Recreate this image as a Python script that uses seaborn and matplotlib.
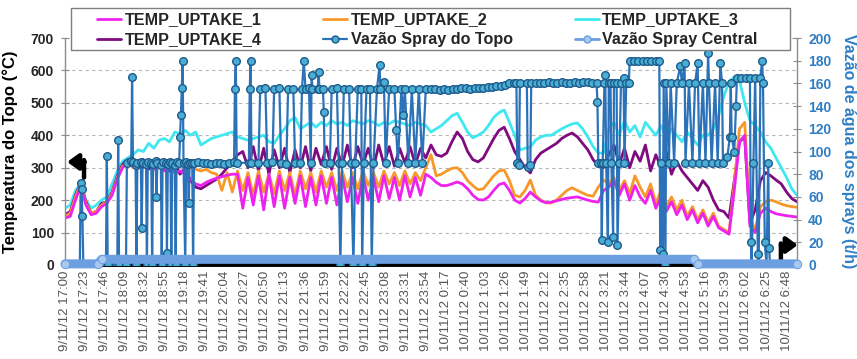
import matplotlib
matplotlib.use("Agg")
import matplotlib.pyplot as plt
import seaborn as sns
import pandas as pd
from matplotlib.lines import Line2D
from matplotlib.patches import Rectangle

sns.set_style("white")
plt.rcParams["font.family"] = ["Liberation Sans", "DejaVu Sans"]

# ---------------- data ----------------
# minutes after 9/11/12 17:00, one reading every 6 minutes
minutes = list(range(0, 841, 6))

temp_uptake_1 = [
    145, 150, 200, 245, 185, 155, 160, 180, 190, 215,
    265, 300, 315, 305, 315, 300, 310, 295, 305, 290,
    300, 285, 290, 280, 265, 250, 245, 255, 262, 268,
    272, 277, 280, 280, 175, 270, 185, 275, 170, 280,
    180, 275, 175, 270, 190, 275, 180, 270, 185, 275,
    190, 270, 185, 275, 195, 270, 190, 275, 200, 270,
    195, 275, 205, 270, 200, 275, 210, 270, 215, 280,
    270, 255, 245, 245, 250, 256, 250, 235, 215, 202,
    200, 210, 230, 248, 253, 230, 200, 191, 205, 225,
    210, 198, 192, 194, 198, 202, 206, 208, 210, 205,
    200, 196, 194, 230, 240, 260, 215, 250, 200, 245,
    210, 190, 230, 175, 210, 165, 195, 155, 185, 140,
    170, 130, 160, 120, 150, 115, 105, 95, 230, 380,
    400, 120, 100, 160, 175, 165, 158, 155, 152, 150,
    148]

temp_uptake_2 = [
    150, 160, 210, 250, 190, 160, 165, 185, 195, 220,
    270, 305, 315, 300, 320, 305, 315, 300, 320, 310,
    315, 300, 320, 305, 300, 295, 290, 295, 285, 280,
    230, 285, 225, 290, 230, 285, 215, 290, 225, 280,
    220, 290, 230, 285, 215, 290, 235, 285, 225, 290,
    240, 285, 230, 290, 240, 285, 235, 290, 245, 285,
    240, 290, 250, 285, 245, 290, 250, 285, 260, 300,
    340, 275, 280, 290, 298, 300, 285, 260, 245, 232,
    235, 255, 275, 290, 293, 260, 215, 210, 230, 262,
    215, 200, 192, 191, 200, 215, 230, 238, 230, 222,
    215, 212, 240, 262, 250, 270, 230, 260, 220, 275,
    240, 210, 250, 190, 230, 180, 210, 170, 200, 150,
    180, 140, 170, 130, 160, 120, 110, 100, 250, 420,
    440, 140, 110, 180, 195, 200, 195, 188, 183, 180,
    178]

temp_uptake_3 = [
    175, 185, 230, 250, 200, 175, 185, 200, 210, 250,
    290, 320, 330, 340, 355, 350, 375, 360, 385, 390,
    380, 410, 405, 415, 400, 410, 370, 380, 390, 395,
    400, 405, 410, 395, 390, 385, 390, 395, 400, 380,
    375, 400, 420, 445, 455, 420, 430, 440, 425, 440,
    430, 445, 435, 440, 430, 445, 440, 435, 445, 440,
    430, 440, 435, 445, 440, 435, 430, 440, 435, 430,
    410, 420, 430, 445, 460, 468, 440, 410, 392, 400,
    410, 430, 455, 470, 478, 440, 400, 355, 360, 364,
    385, 395, 400, 400, 410, 420, 428, 435, 438, 420,
    395, 365, 345, 345, 420, 440, 400, 445, 410, 430,
    395, 440, 420, 400, 430, 390, 420, 400, 380, 410,
    390, 370, 400, 400, 420, 460, 520, 565, 580, 570,
    500, 445, 430, 410, 380, 360, 330, 300, 270, 235,
    215]

temp_uptake_4 = [
    155, 165, 215, 253, 195, 160, 165, 190, 195, 225,
    275, 310, 325, 320, 310, 325, 295, 320, 300, 325,
    290, 315, 280, 300, 260, 240, 235, 245, 255, 265,
    280, 300, 320, 340, 350, 300, 365, 290, 360, 280,
    355, 300, 360, 285, 355, 300, 365, 290, 360, 310,
    365, 295, 360, 305, 370, 300, 365, 310, 360, 300,
    370, 310, 365, 305, 360, 315, 365, 310, 360, 330,
    370, 340, 335, 345, 380, 410, 390, 350, 325, 318,
    330, 360, 390, 415, 425, 390, 350, 325, 300, 284,
    325, 345, 355, 365, 375, 390, 400, 407, 395, 375,
    355, 325, 305, 300, 340, 370, 310, 360, 300, 350,
    320, 370, 290, 340, 300, 350, 280, 320, 290, 270,
    250, 230, 260, 240, 200, 170, 165, 145, 260, 380,
    395, 130, 170, 260, 285, 275, 262, 250, 225, 205,
    195]

# Vazão Spray do Topo (t/h): (minute, value)
topo_points = [
    (0, 0), (17, 0), (18, 72), (19, 67), (20, 43), (21, 0), (47, 0), (48, 96), (49, 0),
    (60, 0), (61, 110), (62, 0), (70, 0),
    (71, 90), (76, 92), (77, 166), (78, 91), (81, 88), (82, 0), (83, 90), (87, 91), (88, 33),
    (89, 90), (93, 89), (94, 0), (95, 91), (99, 90), (100, 0), (101, 89), (104, 92), (105, 60),
    (106, 90), (110, 88), (111, 0), (112, 91), (116, 90), (117, 11), (118, 89), (121, 91),
    (122, 0), (123, 90), (126, 88), (127, 0), (128, 91), (131, 90), (132, 113), (133, 132),
    (134, 156), (135, 180), (136, 90), (138, 0), (139, 91), (141, 89), (142, 55), (143, 90),
    (146, 90), (147, 0), (148, 90), (153, 91), (158, 90), (163, 90), (168, 89), (173, 90),
    (178, 90), (183, 89), (188, 90), (194, 91), (195, 155), (196, 180), (197, 90), (211, 90),
    (212, 155), (213, 180), (214, 90),
    (222, 90), (224, 155), (230, 156), (232, 90), (238, 91), (240, 155), (246, 156), (248, 90),
    (254, 89), (256, 155), (262, 155), (264, 90), (270, 90), (272, 155), (274, 180), (276, 155),
    (280, 156), (282, 90), (283, 167), (284, 155), (290, 155), (291, 170), (292, 155), (296, 155),
    (297, 135), (298, 90), (304, 90), (306, 155), (312, 156), (314, 90), (316, 0), (318, 90),
    (320, 155), (326, 155), (328, 90), (331, 0), (333, 90), (336, 155), (340, 155), (341, 0),
    (343, 90), (346, 155), (350, 155), (352, 0), (354, 90), (358, 155), (361, 176), (362, 155),
    (366, 161), (368, 90), (372, 155), (378, 155), (380, 119), (382, 90), (386, 155), (388, 132),
    (390, 155), (394, 90), (398, 155), (402, 90), (406, 155), (410, 90), (414, 155),
    (420, 155), (425, 155), (430, 154), (435, 155), (440, 154), (445, 155), (450, 155),
    (455, 156), (460, 156), (465, 155), (470, 156), (475, 156), (480, 156), (485, 157),
    (490, 157), (495, 158), (500, 158), (505, 159), (510, 160), (515, 160), (518, 160),
    (519, 90), (521, 88), (522, 160), (530, 160), (531, 86), (534, 88), (535, 160), (540, 160),
    (545, 160), (550, 160), (555, 161), (560, 160), (565, 160), (570, 161), (575, 160),
    (580, 160), (585, 161), (590, 160), (595, 161), (600, 161), (605, 160), (610, 160),
    (611, 144), (612, 90), (615, 90), (616, 22), (617, 90), (619, 160), (620, 167), (621, 90),
    (623, 20), (624, 160), (626, 160), (627, 90), (629, 25), (630, 160), (633, 160), (634, 18),
    (636, 90), (638, 160), (641, 165), (642, 90), (644, 160), (647, 160),
    (648, 180), (653, 180), (658, 180), (663, 180), (668, 180), (673, 180), (678, 180), (682, 180),
    (683, 13), (684, 90), (686, 10), (687, 160), (689, 0), (690, 160), (693, 90), (695, 160),
    (699, 90), (702, 160), (706, 175), (708, 160), (711, 178), (712, 90), (716, 160), (720, 90),
    (723, 160), (726, 178), (728, 90), (732, 160), (735, 90), (738, 187), (739, 160), (742, 90),
    (746, 160), (749, 90), (752, 178), (754, 160), (755, 90),
    (760, 95), (763, 113), (764, 160), (765, 113), (768, 100), (770, 140),
    (771, 165), (776, 165), (781, 165), (786, 165),
    (787, 20), (788, 0), (790, 90), (792, 165), (795, 10), (796, 0), (798, 165), (800, 180),
    (801, 160), (803, 20), (805, 0), (807, 90), (808, 15), (809, 0), (840, 0)]
topo_t = [p[0] for p in topo_points]
topo_v = [p[1] for p in topo_points]

# Vazão Spray Central (t/h)
central_t = [0, 38, 42, 722, 726, 840]
central_v = [1, 1, 5, 5, 1, 1]

tick_labels = [
    "9/11/12 17:00", "9/11/12 17:23", "9/11/12 17:46", "9/11/12 18:09", "9/11/12 18:32",
    "9/11/12 18:55", "9/11/12 19:18", "9/11/12 19:41", "9/11/12 20:04", "9/11/12 20:27",
    "9/11/12 20:50", "9/11/12 21:13", "9/11/12 21:36", "9/11/12 21:59", "9/11/12 22:22",
    "9/11/12 22:45", "9/11/12 23:08", "9/11/12 23:31", "9/11/12 23:54", "10/11/12 0:17",
    "10/11/12 0:40", "10/11/12 1:03", "10/11/12 1:26", "10/11/12 1:49", "10/11/12 2:12",
    "10/11/12 2:35", "10/11/12 2:58", "10/11/12 3:21", "10/11/12 3:44", "10/11/12 4:07",
    "10/11/12 4:30", "10/11/12 4:53", "10/11/12 5:16", "10/11/12 5:39", "10/11/12 6:02",
    "10/11/12 6:25", "10/11/12 6:48"]
tick_minutes = [23 * i for i in range(len(tick_labels))]

# ---------------- styles ----------------
C1, C2, C3, C4 = "#EE22EE", "#F7992A", "#3FE8F0", "#800A80"
TOPO_LINE, TOPO_FACE, TOPO_EDGE = "#2C72B8", "#4AAED4", "#1E5A8C"
CENTRAL = "#6C9FE0"
BLUE_TXT = "#2F7EC4"

W, H = 857, 359
fig = plt.figure(figsize=(W / 100, H / 100), dpi=100)
ax = fig.add_axes([65 / W, 1 - 265 / H, 732 / W, 227 / H])
ax2 = ax.twinx()

temps = pd.DataFrame({"min": minutes, "T1": temp_uptake_1, "T2": temp_uptake_2,
                      "T3": temp_uptake_3, "T4": temp_uptake_4})
for col, c in [("T3", C3), ("T4", C4), ("T2", C2), ("T1", C1)]:
    sns.lineplot(data=temps, x="min", y=col, ax=ax, color=c, lw=2.0,
                 estimator=None, legend=False)

sns.lineplot(x=topo_t, y=topo_v, ax=ax2, estimator=None, sort=False, legend=False,
             color=TOPO_LINE, lw=1.6, marker="o", markersize=5.5,
             markerfacecolor=TOPO_FACE, markeredgecolor=TOPO_EDGE, markeredgewidth=1.0)
sns.lineplot(x=central_t, y=central_v, ax=ax2, estimator=None, sort=False, legend=False,
             color=CENTRAL, lw=6.5, marker="o", markersize=6,
             markerfacecolor="#A9C8EE", markeredgecolor=CENTRAL, clip_on=False, zorder=5)

ax.set_xlim(0, 840)
ax.set_ylim(0, 700)
ax2.set_ylim(0, 200)

# grid
ax.yaxis.grid(True, linestyle=(0, (3, 3)), color="#B5B5B5", lw=0.8)
ax.xaxis.grid(False)
ax2.grid(False)

# spines
for s in ["top", "right"]:
    ax.spines[s].set_visible(False)
for s in ["top", "left", "bottom"]:
    ax2.spines[s].set_visible(False)
ax.spines["left"].set_color("#8C8C8C")
ax.spines["left"].set_linewidth(1.0)
ax2.spines["right"].set_color("#8C8C8C")
ax2.spines["right"].set_linewidth(1.0)
ax.spines["bottom"].set_color("black")
ax.spines["bottom"].set_linewidth(2.8)

# ticks
ax.set_yticks(list(range(0, 701, 100)))
ax.set_yticklabels([str(v) for v in range(0, 701, 100)], fontweight="bold", fontsize=10)
ax.tick_params(axis="y", left=True, direction="inout", length=6, width=0.8,
               color="#8C8C8C", pad=5)
ax2.set_yticks(list(range(0, 201, 20)))
ax2.set_yticklabels([str(v) for v in range(0, 201, 20)], fontweight="bold", fontsize=10,
                    color=BLUE_TXT)
ax2.tick_params(axis="y", right=True, direction="inout", length=6, width=0.8,
                color="#8C8C8C", pad=5)
ax.set_xticks(tick_minutes)
ax.set_xticklabels(tick_labels, rotation=90, fontsize=9.5, color="#555555")
ax.tick_params(axis="x", bottom=False, length=0, pad=4)

ax.set_xlabel("")
ax.set_ylabel("Temperatura do Topo (°C)", fontsize=12, fontweight="bold", color="black")
ax.yaxis.set_label_coords(-0.064, 0.5)
ax2.set_ylabel("Vazão de água dos sprays (t/h)", fontsize=11.5, fontweight="bold",
               color=BLUE_TXT, rotation=270, va="center", ha="center")
ax2.yaxis.set_label_coords(1.0697, 0.5)

# axis-indicator arrows
arr = dict(arrowstyle="-|>,head_length=0.55,head_width=0.4", lw=3.2, color="black",
           shrinkA=0, shrinkB=0, mutation_scale=12)
stem = dict(arrowstyle="-", lw=3.2, color="black", shrinkA=0, shrinkB=0)
ax2.annotate("", xy=(0.003, 0.454), xytext=(0.027, 0.454), xycoords="axes fraction",
             arrowprops=arr)
ax2.annotate("", xy=(0.026, 0.385), xytext=(0.026, 0.462), xycoords="axes fraction",
             arrowprops=stem)
ax2.annotate("", xy=(1.001, 0.088), xytext=(0.978, 0.088), xycoords="axes fraction",
             arrowprops=arr)
ax2.annotate("", xy=(0.978, 0.013), xytext=(0.978, 0.095), xycoords="axes fraction",
             arrowprops=stem)

# legend
handles = [
    Line2D([], [], color=C1, lw=2),
    Line2D([], [], color=C4, lw=2),
    Line2D([], [], color=C2, lw=2),
    Line2D([], [], color=TOPO_LINE, lw=1.6, marker="o", ms=5, mfc=TOPO_FACE, mec=TOPO_EDGE),
    Line2D([], [], color=C3, lw=2),
    Line2D([], [], color=CENTRAL, lw=2, marker="o", ms=5, mfc="#A9C8EE", mec=CENTRAL),
]
labels = ["TEMP_UPTAKE_1", "TEMP_UPTAKE_4", "TEMP_UPTAKE_2", "Vazão Spray do Topo",
          "TEMP_UPTAKE_3", "Vazão Spray Central"]
fig.add_artist(Rectangle((71 / W, 1 - 50 / H), (790 - 71) / W, 42 / H,
                         transform=fig.transFigure, fill=True, facecolor="white",
                         edgecolor="#7F7F7F", lw=1.0, zorder=3))
leg = fig.legend(handles, labels, loc="upper left", bbox_to_anchor=(97 / W, 1 - 12.5 / H),
                 ncol=3, frameon=False, prop={"weight": "bold", "size": 11.6},
                 handlelength=1.5, handletextpad=0.2, columnspacing=3.85,
                 labelspacing=0.3, borderpad=0, borderaxespad=0)
leg.set_zorder(4)

fig.savefig("out.png", dpi=100)
